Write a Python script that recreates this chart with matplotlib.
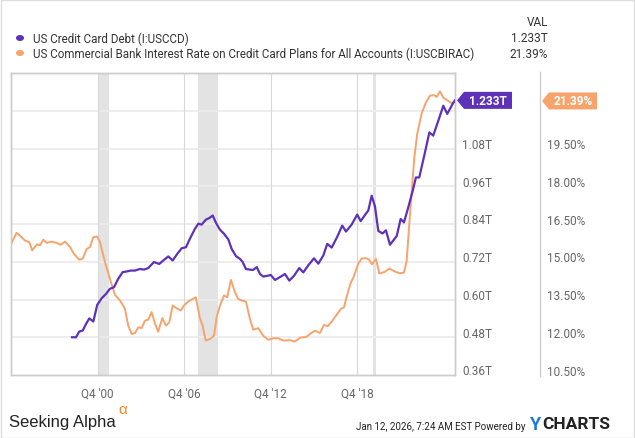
import matplotlib
matplotlib.use("Agg")
import matplotlib.pyplot as plt
import matplotlib.transforms as mtransforms
from matplotlib.patches import Polygon, Rectangle, Circle

# ---------------- data ----------------
rate_dates = [1994.99, 1995.38, 1995.61, 1995.96, 1996.26, 1996.46, 1996.77, 1997.00, 1997.23, 1997.46,
              1997.81, 1998.16, 1998.43, 1998.74, 1999.09, 1999.36, 1999.72, 1999.96, 2000.24, 2000.47,
              2000.70, 2000.97, 2001.16, 2001.51, 2001.85, 2002.20, 2002.55, 2002.89, 2003.12, 2003.36,
              2003.59, 2003.82, 2004.05, 2004.28, 2004.51, 2004.74, 2004.97, 2005.20, 2005.48, 2005.74,
              2005.97, 2006.20, 2006.48, 2006.76, 2006.98, 2007.28, 2007.80, 2008.09, 2008.28, 2008.49,
              2008.79, 2009.07, 2009.25, 2009.48, 2009.76, 2009.99, 2010.24, 2010.52, 2010.75, 2010.99,
              2011.28, 2011.56, 2011.79, 2012.14, 2012.48, 2012.83, 2013.18, 2013.52, 2013.87, 2014.34,
              2014.68, 2015.03, 2015.26, 2015.49, 2015.72, 2016.07, 2016.42, 2016.69, 2016.95, 2017.23,
              2017.53, 2017.87, 2018.08, 2018.29, 2018.53, 2018.77, 2019.07, 2019.31, 2019.61, 2019.81,
              2020.02, 2020.30, 2020.53, 2020.92, 2021.22, 2021.62, 2021.96, 2022.24, 2022.43, 2022.61,
              2022.78, 2022.96, 2023.16, 2023.47, 2023.77, 2024.05, 2024.32, 2024.51, 2024.74, 2024.97,
              2025.31, 2025.55, 2025.78]
rate_values = [15.71, 16.15, 16.04, 15.84, 15.78, 15.45, 15.69, 15.65, 15.88, 15.75,
               15.80, 15.75, 15.67, 15.80, 15.58, 15.31, 15.08, 15.12, 15.51, 15.58,
               15.98, 16.00, 15.78, 14.98, 14.32, 13.68, 13.46, 13.13, 12.46, 12.13,
               12.17, 12.40, 12.36, 12.66, 12.70, 13.00, 12.55, 12.22, 12.76, 12.46,
               12.60, 13.26, 13.15, 13.06, 13.26, 13.42, 13.59, 12.76, 12.46, 11.87,
               11.93, 12.06, 12.80, 13.26, 13.66, 13.59, 14.28, 13.79, 13.52, 13.46,
               13.42, 12.73, 12.30, 12.36, 12.06, 11.90, 11.96, 11.96, 11.87, 11.88,
               11.83, 11.98, 12.00, 12.02, 12.13, 12.26, 12.17, 12.49, 12.44, 12.62,
               12.86, 13.13, 13.19, 13.66, 14.14, 14.42, 14.92, 15.13, 15.14, 15.09,
               14.90, 15.11, 14.53, 14.60, 14.73, 14.61, 14.54, 14.57, 15.04, 16.50,
               17.82, 19.15, 20.08, 20.90, 21.34, 21.60, 21.62, 21.55, 21.77, 21.52,
               21.39, 21.30, 21.39]

debt_dates = [1999.22, 1999.50, 1999.72, 1999.96, 2000.19, 2000.42, 2000.70, 2000.97, 2001.28, 2001.58,
              2001.85, 2002.13, 2002.43, 2002.73, 2003.01, 2003.29, 2003.59, 2003.93, 2004.21, 2004.51,
              2004.90, 2005.27, 2005.55, 2005.90, 2006.20, 2006.52, 2006.83, 2007.12, 2007.45, 2007.75,
              2007.98, 2008.21, 2008.51, 2008.74, 2008.98, 2009.20, 2009.48, 2009.76, 2010.06, 2010.29,
              2010.59, 2010.87, 2011.06, 2011.28, 2011.56, 2011.79, 2012.03, 2012.26, 2012.48, 2012.83,
              2013.00, 2013.30, 2013.64, 2013.99, 2014.29, 2014.61, 2014.98, 2015.26, 2015.61, 2016.00,
              2016.30, 2016.65, 2016.92, 2017.23, 2017.62, 2017.96, 2018.22, 2018.61, 2019.00, 2019.24,
              2019.54, 2019.77, 2020.00, 2020.23, 2020.46, 2020.76, 2020.99, 2021.27, 2021.74, 2022.01,
              2022.24, 2022.54, 2022.85, 2023.07, 2023.30, 2023.70, 2024.00, 2024.27, 2024.62, 2024.97,
              2025.24, 2025.62, 2025.78]
debt_values = [0.480, 0.480, 0.498, 0.501, 0.522, 0.540, 0.530, 0.583, 0.604, 0.618,
               0.634, 0.639, 0.666, 0.687, 0.689, 0.692, 0.692, 0.697, 0.695, 0.700,
               0.719, 0.713, 0.724, 0.737, 0.724, 0.745, 0.763, 0.766, 0.798, 0.825,
               0.841, 0.838, 0.854, 0.859, 0.867, 0.844, 0.822, 0.809, 0.791, 0.761,
               0.738, 0.729, 0.719, 0.697, 0.695, 0.694, 0.703, 0.681, 0.673, 0.676,
               0.678, 0.662, 0.671, 0.681, 0.660, 0.675, 0.700, 0.686, 0.709, 0.731,
               0.714, 0.740, 0.777, 0.765, 0.800, 0.835, 0.816, 0.838, 0.870, 0.849,
               0.869, 0.883, 0.930, 0.896, 0.818, 0.810, 0.820, 0.774, 0.802, 0.856,
               0.845, 0.893, 0.946, 0.988, 0.988, 1.068, 1.131, 1.121, 1.168, 1.216,
               1.190, 1.222, 1.233]

recessions = [(2001.10, 2001.80), (2007.93, 2009.36), (2020.07, 2020.30)]

xtick_pos = [2001.0, 2007.0, 2013.0, 2019.0]
xtick_labels = ["Q4 '00", "Q4 '06", "Q4 '12", "Q4 '18"]
left_ticks = [0.36, 0.48, 0.60, 0.72, 0.84, 0.96, 1.08, 1.20]
left_labels = ["0.36T", "0.48T", "0.60T", "0.72T", "0.84T", "0.96T", "1.08T", ""]
right_ticks = [10.5, 12.0, 13.5, 15.0, 16.5, 18.0, 19.5, 21.0]
right_labels = ["10.50%", "12.00%", "13.50%", "15.00%", "16.50%", "18.00%", "19.50%", ""]

debt_name = "US Credit Card Debt (I:USCCD)"
rate_name = "US Commercial Bank Interest Rate on Credit Card Plans for All Accounts (I:USCBIRAC)"
debt_last = "1.233T"
rate_last = "21.39%"

PURPLE = "#5d32b9"
ORANGE = "#f7a46c"
GRAY_TXT = "#666666"

plt.rcParams['font.family'] = ['Roboto', 'DejaVu Sans']

W, H = 635, 439
fig = plt.figure(figsize=(W / 100, H / 100), dpi=100)
fig.patch.set_facecolor("white")

def fx(x):
    return x / W

def fy(y):
    return 1 - y / H

# bottom axes (rate, with background elements); top axes (debt)
ax = fig.add_axes([fx(11), fy(376), fx(455) - fx(11), fy(74) - fy(376)])
ax.set_xlim(1994.99, 2025.78)
ax.set_ylim(0.36, 1.32)
ax2 = ax.twinx()
ax2.set_ylim(10.5, 22.5)

for a, b in recessions:
    ax2.axvspan(a, b, color="#e3e3e3", lw=0, zorder=0)
for t in right_ticks[1:]:
    ax2.axhline(t, color="#ececec", lw=1.3, zorder=0.5)
for t in xtick_pos:
    ax2.axvline(t, color="#d9d9d9", lw=0.8, zorder=0.6)

ax.set_yticks(left_ticks)
ax.set_yticklabels([])
ax.set_xticks(xtick_pos)
ax.set_xticklabels(xtick_labels, color=GRAY_TXT, fontsize=8.5)
ax.tick_params(axis='x', length=0, pad=8)
ax.tick_params(axis='y', length=0)
ax2.set_yticks([])
for a in (ax, ax2):
    for s in a.spines.values():
        s.set_color("#cccccc")
        s.set_linewidth(1.0)

ax2.plot(rate_dates, rate_values, color=ORANGE, lw=1.4, zorder=3, solid_joinstyle='round')
ax.plot(debt_dates, debt_values, color=PURPLE, lw=1.6, zorder=4, solid_joinstyle='round')
ax.set_zorder(ax2.get_zorder() + 1)
ax.patch.set_visible(False)
ax2.patch.set_facecolor("white")

# axis labels (offset slightly above gridlines like the reference)
tl = mtransforms.offset_copy(mtransforms.blended_transform_factory(fig.transFigure, ax.transData),
                             fig=fig, x=0, y=4, units='dots')
tr = mtransforms.offset_copy(mtransforms.blended_transform_factory(fig.transFigure, ax2.transData),
                             fig=fig, x=0, y=4, units='dots')
for v, lab in zip(left_ticks, left_labels):
    if lab:
        fig.text(fx(462), v, lab, transform=tl, ha='left', va='center', color=GRAY_TXT, fontsize=8.5)
for v, lab in zip(right_ticks, right_labels):
    if lab:
        fig.text(fx(547), v, lab, transform=tr, ha='left', va='center', color=GRAY_TXT, fontsize=8.5)

# separator line between the two label columns
fig.add_artist(plt.Line2D([fx(540), fx(540)], [fy(73), fy(377)], color="#cccccc", lw=1.0))

# value flags
def flag(x0, yc, width, color, text):
    h = 17
    pts = [(x0, yc), (x0 + 7, yc + h / 2), (x0 + width, yc + h / 2),
           (x0 + width, yc - h / 2), (x0 + 7, yc - h / 2)]
    fig.add_artist(Polygon(pts, closed=True, facecolor=color, edgecolor='none',
                           transform=mtransforms.IdentityTransform()))
    fig.text((x0 + 7 + x0 + width) / 2 / W, yc / H, text, ha='center', va='center',
             color='white', fontsize=8.5, fontweight='bold')

fig.canvas.draw()
yc_d = ax.transData.transform((debt_dates[-1], debt_values[-1]))[1]
yc_r = ax2.transData.transform((rate_dates[-1], rate_values[-1]))[1]
flag(457, yc_d, 55, PURPLE, debt_last)
flag(542, yc_r, 55, ORANGE, rate_last)

# legend
fig.add_artist(Circle((fx(20), fy(39)), 3.3 / W, color=PURPLE, transform=fig.transFigure))
fig.add_artist(Circle((fx(20), fy(54)), 3.3 / W, color=ORANGE, transform=fig.transFigure))
fig.text(fx(33), fy(39), debt_name, ha='left', va='center', color="#333333", fontsize=8.4)
fig.text(fx(33), fy(54), rate_name, ha='left', va='center', color="#333333", fontsize=8.4)
fig.text(fx(548), fy(23), "VAL", ha='right', va='center', color="#333333", fontsize=8.5)
fig.text(fx(548), fy(39), debt_last, ha='right', va='center', color="#333333", fontsize=8.5)
fig.text(fx(548), fy(54), rate_last, ha='right', va='center', color="#333333", fontsize=8.5)

# footer
fig.text(fx(9), fy(423), "Seeking Alpha", ha='left', va='center', color="#222222",
         fontsize=12, family=['Liberation Sans', 'DejaVu Sans'])
fig.text(fx(118), fy(410), "\u03b1", ha='left', va='center', color="#f08a24",
         fontsize=11, family=['Liberation Sans', 'DejaVu Sans'])
fig.text(fx(526), fy(427), "Jan 12, 2026, 7:24 AM EST Powered by", ha='right', va='center',
         color="#222222", fontsize=7.0)
fig.text(fx(530), fy(425), "Y", ha='left', va='center', color="#1f7ad6", fontsize=13, fontweight='bold')
fig.text(fx(542), fy(425), "CHARTS", ha='left', va='center', color="#222222", fontsize=12.5,
         fontweight='bold')

# outer border
fig.add_artist(Rectangle((0.5 / W, 0.5 / H), 1 - 1.5 / W, 1 - 1.5 / H, fill=False,
                         edgecolor="#dddddd", lw=1.0, transform=fig.transFigure))

fig.savefig("out.png", dpi=100, facecolor="white")
